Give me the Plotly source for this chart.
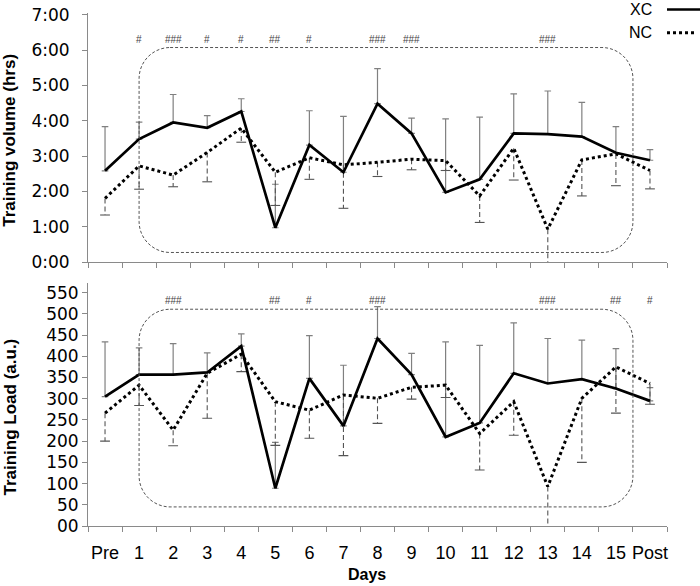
import plotly.graph_objects as go

# ---------------- data ----------------
days = ["Pre", "1", "2", "3", "4", "5", "6", "7", "8", "9", "10",
        "11", "12", "13", "14", "15", "Post"]

# Training volume (hours, decimal)
xc_vol = [2.58, 3.48, 3.95, 3.80, 4.26, 0.97, 3.31, 2.54, 4.48, 3.64, 1.97,
          2.34, 3.64, 3.62, 3.55, 3.09, 2.88]
xc_vol_sd = [1.25, 0.48, 0.79, 0.34, 0.36, 1.23, 0.97, 1.58, 0.99, 0.43, 2.08,
             1.76, 1.12, 1.22, 0.97, 0.74, 0.30]
nc_vol = [1.80, 2.72, 2.46, 3.10, 3.79, 2.54, 2.95, 2.75, 2.82, 2.91, 2.87,
          1.87, 3.22, 0.93, 2.89, 3.06, 2.59]
nc_vol_sd = [0.47, 0.66, 0.33, 0.83, 0.40, 0.94, 0.61, 1.23, 0.40, 0.30, 0.28,
             0.75, 0.90, 0.95, 1.02, 0.90, 0.52]

# Training load (a.u.)
xc_load = [305, 357, 357, 362, 424, 89, 348, 236, 442, 357, 210,
           243, 360, 336, 346, 324, 295]
xc_load_sd = [129, 63, 73, 46, 29, 108, 101, 143, 75, 50, 224,
              183, 119, 106, 92, 94, 31]
nc_load = [266, 332, 226, 360, 405, 293, 273, 309, 301, 327, 332,
           218, 293, 93, 301, 375, 336]
nc_load_sd = [66, 48, 37, 106, 41, 103, 66, 143, 59, 28, 29,
              86, 79, 95, 151, 109, 49]

vol_tick_vals = [0, 1, 2, 3, 4, 5, 6, 7]
vol_tick_text = ["0:00", "1:00", "2:00", "3:00", "4:00", "5:00", "6:00", "7:00"]
load_tick_vals = [0, 50, 100, 150, 200, 250, 300, 350, 400, 450, 500, 550]
load_tick_text = ["00", "50", "100", "150", "200", "250", "300", "350",
                  "400", "450", "500", "550"]

vol_sig_days = ["1", "2", "3", "4", "5", "6", "8", "9", "13"]
vol_sig = ["#", "###", "#", "#", "##", "#", "###", "###", "###"]
load_sig_days = ["2", "5", "6", "8", "13", "15", "Post"]
load_sig = ["###", "##", "#", "###", "###", "##", "#"]

# highlighted period (rounded dashed box): day 1 .. end of day 15
box_first_day = "1"
box_last_day = "15"
vol_box = (0.27, 6.07)
load_box = (45, 511)

# ---------------- layout geometry ----------------
W, H = 700, 586
PW, PH = 579, 513            # plot area size
ML, MT = 88, 13
MR, MB = W - ML - PW, H - MT - PH
top_dom = [0.5146, 1.0]
bot_dom = [0.0, 0.4743]
vol_range = [0, 7.047]
load_range = [0, 573.6]
xr = [-0.5, len(days) - 0.5]

xi = list(range(len(days)))

AX_COL = "#8a8a8a"
fig = go.Figure()


def add_group(xa, ya, xc, xc_sd, nc, nc_sd, lo):
    # XC error bars (upward, solid grey)
    fig.add_trace(go.Scatter(
        x=xi, y=xc, mode="lines", xaxis=xa, yaxis=ya, showlegend=False,
        line=dict(color="rgba(0,0,0,0)", width=0),
        error_y=dict(type="data", symmetric=False, array=xc_sd,
                     arrayminus=[0] * len(xc), color="#808080",
                     thickness=1.2, width=3.3)))
    # NC error bars (downward, dashed)
    sx, sy, cy = [], [], []
    for i, (v, s) in enumerate(zip(nc, nc_sd)):
        lowv = max(v - s, lo)
        sx += [i, i, None]
        sy += [v, lowv, None]
        cy.append(v - s)
    fig.add_trace(go.Scatter(
        x=sx, y=sy, mode="lines", xaxis=xa, yaxis=ya, showlegend=False,
        line=dict(color="#555555", width=1.1, dash="5px,3px")))
    fig.add_trace(go.Scatter(
        x=xi, y=cy, mode="markers", xaxis=xa, yaxis=ya, showlegend=False,
        marker=dict(symbol="line-ew", size=7,
                    line=dict(color="#555555", width=1.1)),
        cliponaxis=True))
    # NC line (dotted)
    fig.add_trace(go.Scatter(
        x=xi, y=nc, mode="lines", xaxis=xa, yaxis=ya, showlegend=False,
        line=dict(color="black", width=3, dash="3px,3px")))
    # XC line (solid)
    fig.add_trace(go.Scatter(
        x=xi, y=xc, mode="lines", xaxis=xa, yaxis=ya, showlegend=False,
        line=dict(color="black", width=2.7)))


add_group("x", "y", xc_vol, xc_vol_sd, nc_vol, nc_vol_sd, vol_range[0])
add_group("x2", "y2", xc_load, xc_load_sd, nc_load, nc_load_sd, load_range[0])


def rounded_box(x0, x1, y0, y1, rx, ry):
    return (f"M {x0+rx},{y1} L {x1-rx},{y1} "
            f"C {x1-rx*0.45},{y1} {x1},{y1-ry*0.45} {x1},{y1-ry} "
            f"L {x1},{y0+ry} "
            f"C {x1},{y0+ry*0.45} {x1-rx*0.45},{y0} {x1-rx},{y0} "
            f"L {x0+rx},{y0} "
            f"C {x0+rx*0.45},{y0} {x0},{y0+ry*0.45} {x0},{y0+ry} "
            f"L {x0},{y1-ry} "
            f"C {x0},{y1-ry*0.45} {x0+rx*0.45},{y1} {x0+rx},{y1} Z")


px_per_x = PW / (xr[1] - xr[0])
rad_px = 31
bx0 = days.index(box_first_day)
bx1 = days.index(box_last_day) + 0.5
for (xref, yref, yb, yrng, dom) in [("x", "y", vol_box, vol_range, top_dom),
                                      ("x2", "y2", load_box, load_range, bot_dom)]:
    px_per_y = PH * (dom[1] - dom[0]) / (yrng[1] - yrng[0])
    fig.add_shape(type="path", xref=xref, yref=yref,
                  path=rounded_box(bx0, bx1, yb[0], yb[1],
                                   rad_px / px_per_x, rad_px / px_per_y),
                  line=dict(color="#555555", width=1, dash="3px,2px"))

# significance marks
for d, s in zip(vol_sig_days, vol_sig):
    fig.add_annotation(x=days.index(d), y=6.29, xref="x", yref="y", text=s,
                       showarrow=False, font=dict(size=10, color="#444444",
                                                  family="Liberation Sans"))
for d, s in zip(load_sig_days, load_sig):
    fig.add_annotation(x=days.index(d), y=531, xref="x2", yref="y2", text=s,
                       showarrow=False, font=dict(size=10, color="#444444",
                                                  family="Liberation Sans"))


# pixel -> paper coordinates (plot area spans x 88..667, y 13..526)
def px2paper_x(px):
    return (px - ML) / PW


def px2paper_y(py):
    return (MT + PH - py) / PH


# axis titles
fig.add_annotation(x=px2paper_x(10), y=px2paper_y(140.8), xref="paper", yref="paper",
                   xanchor="center", yanchor="middle",
                   text="<b>Training volume (hrs)</b>", textangle=-90, showarrow=False,
                   font=dict(size=17, color="black", family="Liberation Sans"))
fig.add_annotation(x=px2paper_x(10), y=px2paper_y(417.5), xref="paper", yref="paper",
                   xanchor="center", yanchor="middle",
                   text="<b>Training Load (a.u.)</b>", textangle=-90, showarrow=False,
                   font=dict(size=17, color="black", family="Liberation Sans"))
fig.add_annotation(x=px2paper_x(367), y=px2paper_y(574), xref="paper", yref="paper",
                   xanchor="center", yanchor="middle",
                   text="<b>Days</b>", showarrow=False,
                   font=dict(size=16, color="black", family="Liberation Sans"))

# legend
fig.add_annotation(x=px2paper_x(654), y=px2paper_y(9.5), xref="paper", yref="paper",
                   text="XC", showarrow=False, xanchor="right", yanchor="middle",
                   font=dict(size=16, color="black", family="Liberation Sans"))
fig.add_annotation(x=px2paper_x(654), y=px2paper_y(32.7), xref="paper", yref="paper",
                   text="NC", showarrow=False, xanchor="right", yanchor="middle",
                   font=dict(size=16, color="black", family="Liberation Sans"))
fig.add_shape(type="line", xref="paper", yref="paper",
              x0=px2paper_x(667), x1=px2paper_x(700), y0=px2paper_y(9.5), y1=px2paper_y(9.5),
              line=dict(color="black", width=2.7))
fig.add_shape(type="line", xref="paper", yref="paper",
              x0=px2paper_x(667), x1=px2paper_x(694), y0=px2paper_y(32.7), y1=px2paper_y(32.7),
              line=dict(color="black", width=3, dash="3px,3px"))

boundaries = [i - 0.5 for i in range(len(days) + 1)]
xaxis_common = dict(range=xr, showline=True, linecolor=AX_COL, linewidth=1,
                    showgrid=False, zeroline=False, ticks="", automargin=False,
                    minor=dict(tickmode="array", tickvals=boundaries, ticks="outside",
                               ticklen=5, tickcolor=AX_COL, tickwidth=1,
                               showgrid=False))
yaxis_common = dict(showline=True, linecolor=AX_COL, linewidth=1, showgrid=False,
                    zeroline=False, ticks="outside", ticklen=5, tickcolor=AX_COL,
                    tickmode="array", automargin=False,
                    tickfont=dict(size=17, color="black", family="DejaVu Sans"))

fig.update_layout(
    width=W, height=H, autosize=False,
    margin=dict(l=ML, r=MR, t=MT, b=MB, pad=0, autoexpand=False),
    paper_bgcolor="white", plot_bgcolor="white",
    showlegend=False, hovermode=False,
    xaxis=dict(**xaxis_common, domain=[0, 1], anchor="y", showticklabels=False),
    xaxis2=dict(**xaxis_common, domain=[0, 1], anchor="y2", tickmode="array",
                tickvals=xi, ticktext=days, ticklabelstandoff=10,
                tickfont=dict(size=18, color="black", family="Liberation Sans")),
    yaxis=dict(**yaxis_common, domain=top_dom, anchor="x", range=vol_range,
               tickvals=vol_tick_vals, ticktext=vol_tick_text, ticklabelstandoff=9),
    yaxis2=dict(**yaxis_common, domain=bot_dom, anchor="x2", range=load_range,
                tickvals=load_tick_vals, ticktext=load_tick_text),
)

# remove the default page margin so the 700x586 figure fills the window exactly
fig.write_html("out.html",
               config={"displayModeBar": False, "staticPlot": True},
               post_script="document.body.style.margin='0';"
                           "document.body.style.padding='0';")
